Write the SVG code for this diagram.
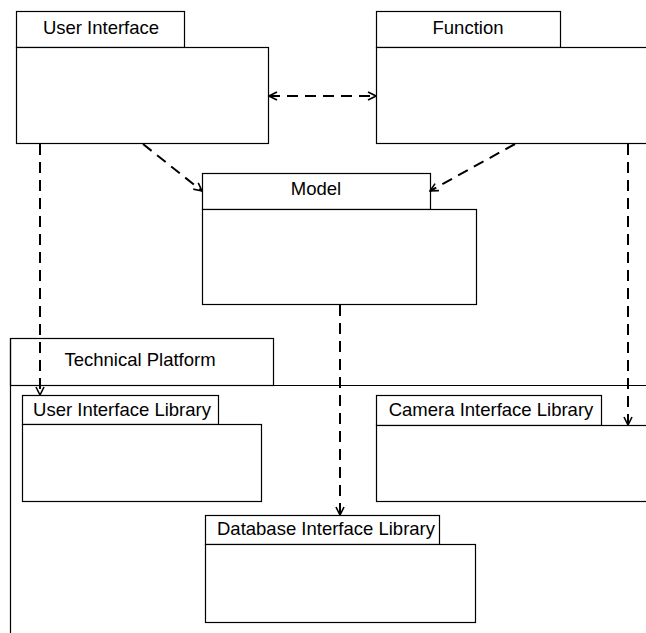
<svg xmlns="http://www.w3.org/2000/svg" width="646" height="633" viewBox="0 0 646 633">
<style>
.box{fill:#fff;stroke:#000;stroke-width:1.2}
.lbl{font-family:"Liberation Sans",Arial,sans-serif;font-size:18.5px;fill:#000;text-anchor:middle}
.dep{fill:none;stroke:#000;stroke-width:2;stroke-dasharray:11,7}
</style>
<defs>
<marker id="open" viewBox="0 0 10 10" refX="9" refY="5" markerWidth="10" markerHeight="10" markerUnits="userSpaceOnUse" orient="auto-start-reverse">
<path d="M1,1 L9,5 L1,9" fill="none" stroke="#000" stroke-width="1.6"/>
</marker>
</defs>
<rect width="646" height="633" fill="#fff"/>
<g id="technical-platform">
<rect class="box" x="10.5" y="338.5" width="263" height="47"/>
<path d="M10.5,385.5 H646 M10.5,338.5 V633" fill="none" stroke="#000" stroke-width="1.2"/>
<text class="lbl" x="140" y="366">Technical Platform</text>
</g>
<g id="user-interface">
<rect class="box" x="16.5" y="11.5" width="168" height="36"/>
<rect class="box" x="16.5" y="47.5" width="252" height="96"/>
<text class="lbl" x="101" y="34">User Interface</text>
</g>
<g id="function">
<rect class="box" x="376.5" y="11.5" width="184" height="36"/>
<rect class="box" x="376.5" y="47.5" width="280" height="96"/>
<text class="lbl" x="468" y="34">Function</text>
</g>
<g id="model">
<rect class="box" x="202.5" y="173.5" width="228" height="36"/>
<rect class="box" x="202.5" y="209.5" width="274" height="95"/>
<text class="lbl" x="316" y="195">Model</text>
</g>
<g id="user-interface-library">
<rect class="box" x="22.5" y="395.5" width="196" height="29"/>
<rect class="box" x="22.5" y="424.5" width="239" height="77"/>
<text class="lbl" x="122" y="416">User Interface Library</text>
</g>
<g id="camera-interface-library">
<rect class="box" x="376.5" y="395.5" width="225" height="30"/>
<rect class="box" x="376.5" y="425.5" width="280" height="76"/>
<text class="lbl" x="491" y="416">Camera Interface Library</text>
</g>
<g id="database-interface-library">
<rect class="box" x="205.5" y="515.5" width="234" height="29"/>
<rect class="box" x="205.5" y="544.5" width="270" height="78"/>
<text class="lbl" x="326" y="535">Database Interface Library</text>
</g>
<g id="connectors">
<line class="dep" x1="269" y1="96" x2="376" y2="96" marker-start="url(#open)" marker-end="url(#open)"/>
<line class="dep" x1="143" y1="144" x2="202" y2="191" marker-end="url(#open)"/>
<line class="dep" x1="515" y1="144" x2="430" y2="191" marker-end="url(#open)"/>
<line class="dep" x1="40" y1="144" x2="40" y2="395" marker-end="url(#open)"/>
<line class="dep" x1="340" y1="305" x2="340" y2="515" marker-end="url(#open)"/>
<line class="dep" x1="628" y1="144" x2="628" y2="425" marker-end="url(#open)"/>
</g>
</svg>
